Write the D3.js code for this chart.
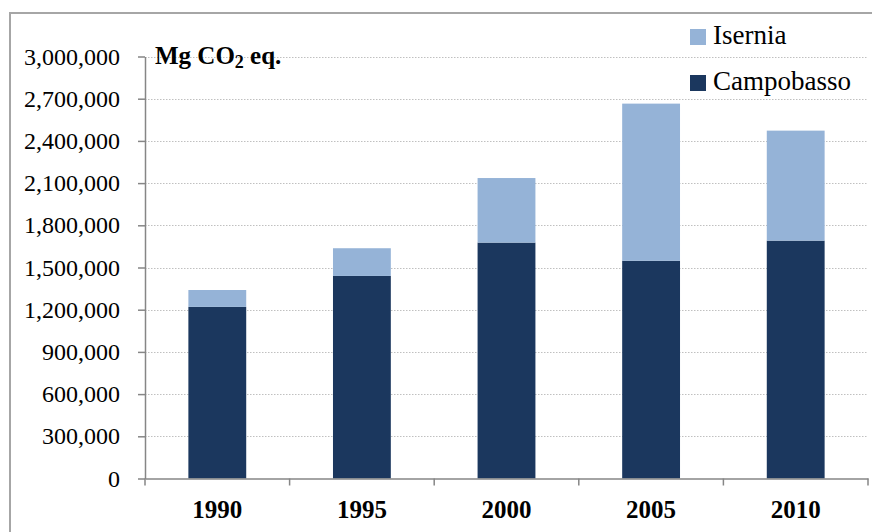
<!DOCTYPE html>
<html>
<head>
<meta charset="utf-8">
<script src="https://cdn.jsdelivr.net/npm/d3@7"></script>
<style>
  html, body { margin: 0; padding: 0; background: #fff; }
  svg { display: block; font-family: "Liberation Serif", "Times New Roman", serif; }
</style>
</head>
<body>
<svg id="chart" width="872" height="532"></svg>
<script>
// Greenhouse gas emissions by province (Mg CO2 eq.)
const years = ["1990", "1995", "2000", "2005", "2010"];
const campobasso = [1220000, 1440000, 1677000, 1548000, 1691000];
const isernia = [120000, 197000, 459000, 1117000, 782000];
const seriesNames = ["Campobasso", "Isernia"];
const seriesColors = ["#1b375e", "#95b3d7"];
const yTicks = [0, 300000, 600000, 900000, 1200000, 1500000, 1800000, 2100000, 2400000, 2700000, 3000000];

const svg = d3.select("#chart");
const plotLeft = 145, plotRight = 868, plotTop = 56.5, plotBottom = 478.5;
const serif = "Liberation Serif, Times New Roman, serif";

const rows = years.map((yr, i) => ({ year: yr, Campobasso: campobasso[i], Isernia: isernia[i] }));
const stacked = d3.stack().keys(seriesNames)(rows);

const x = d3.scaleBand().domain(years).range([plotLeft, plotRight]).paddingInner(0.6).paddingOuter(0.3);
const y = d3.scaleLinear().domain([0, 3000000]).range([plotBottom, plotTop]);
const color = d3.scaleOrdinal().domain(seriesNames).range(seriesColors);

// outer frame
svg.append("path")
  .attr("d", "M10,540 V13 H880")
  .attr("fill", "none")
  .attr("stroke", "#a6a6a6")
  .attr("stroke-width", 2);

// dotted gridlines
svg.append("g").selectAll("line")
  .data(yTicks.filter(t => t > 0))
  .join("line")
  .attr("x1", plotLeft).attr("x2", plotRight)
  .attr("y1", d => Math.round(y(d)) + 0.5).attr("y2", d => Math.round(y(d)) + 0.5)
  .attr("stroke", "#c0c0c0")
  .attr("stroke-width", 1)
  .attr("stroke-dasharray", "1.5,1.5");

// stacked bars
svg.append("g").selectAll("g")
  .data(stacked)
  .join("g")
  .attr("fill", d => color(d.key))
  .selectAll("rect")
  .data(d => d)
  .join("rect")
  .attr("x", d => x(d.data.year))
  .attr("width", x.bandwidth())
  .attr("y", d => y(d[1]))
  .attr("height", d => y(d[0]) - y(d[1]));

// y axis
const yAxis = svg.append("g")
  .attr("transform", `translate(${plotLeft},0)`)
  .call(d3.axisLeft(y).tickValues(yTicks).tickFormat(d3.format(",")).tickSize(7).tickSizeOuter(0).tickPadding(18));
yAxis.select(".domain").attr("stroke", "#868686").attr("stroke-width", 1.5);
yAxis.selectAll(".tick line").attr("stroke", "#868686").attr("stroke-width", 1.5);
yAxis.selectAll(".tick text")
  .attr("font-family", serif)
  .attr("font-size", 24)
  .attr("fill", "#000");

// x axis with ticks at category boundaries
const xAxis = svg.append("g")
  .attr("transform", `translate(0,${plotBottom})`)
  .call(d3.axisBottom(x).tickSize(0).tickSizeOuter(0).tickPadding(22));
xAxis.select(".domain").attr("stroke", "#868686").attr("stroke-width", 1.5);
xAxis.selectAll(".tick text")
  .attr("font-family", serif)
  .attr("font-size", 25)
  .attr("font-weight", "bold")
  .attr("fill", "#000");
const bounds = d3.range(years.length + 1).map(i => plotLeft + i * x.step());
xAxis.append("g").selectAll("line")
  .data(bounds)
  .join("line")
  .attr("x1", d => d).attr("x2", d => d)
  .attr("y1", 0).attr("y2", 7)
  .attr("stroke", "#868686")
  .attr("stroke-width", 1.5);

// unit title
const title = svg.append("text")
  .attr("x", 155).attr("y", 64)
  .attr("font-family", serif)
  .attr("font-size", 25)
  .attr("font-weight", "bold")
  .attr("fill", "#000");
title.append("tspan").text("Mg CO");
title.append("tspan").attr("font-size", 18).attr("dy", 4).text("2");
title.append("tspan").attr("dy", -4).text(" eq.");

// legend
const legendItems = [
  { name: "Isernia", y: 29 },
  { name: "Campobasso", y: 75 }
];
const lg = svg.append("g").selectAll("g")
  .data(legendItems)
  .join("g")
  .attr("transform", d => `translate(690,${d.y})`);
lg.append("rect")
  .attr("width", 16).attr("height", 16)
  .attr("fill", d => color(d.name));
lg.append("text")
  .attr("x", 23).attr("y", 15)
  .attr("font-family", serif)
  .attr("font-size", 27)
  .attr("fill", "#000")
  .text(d => d.name);
</script>
</body>
</html>
